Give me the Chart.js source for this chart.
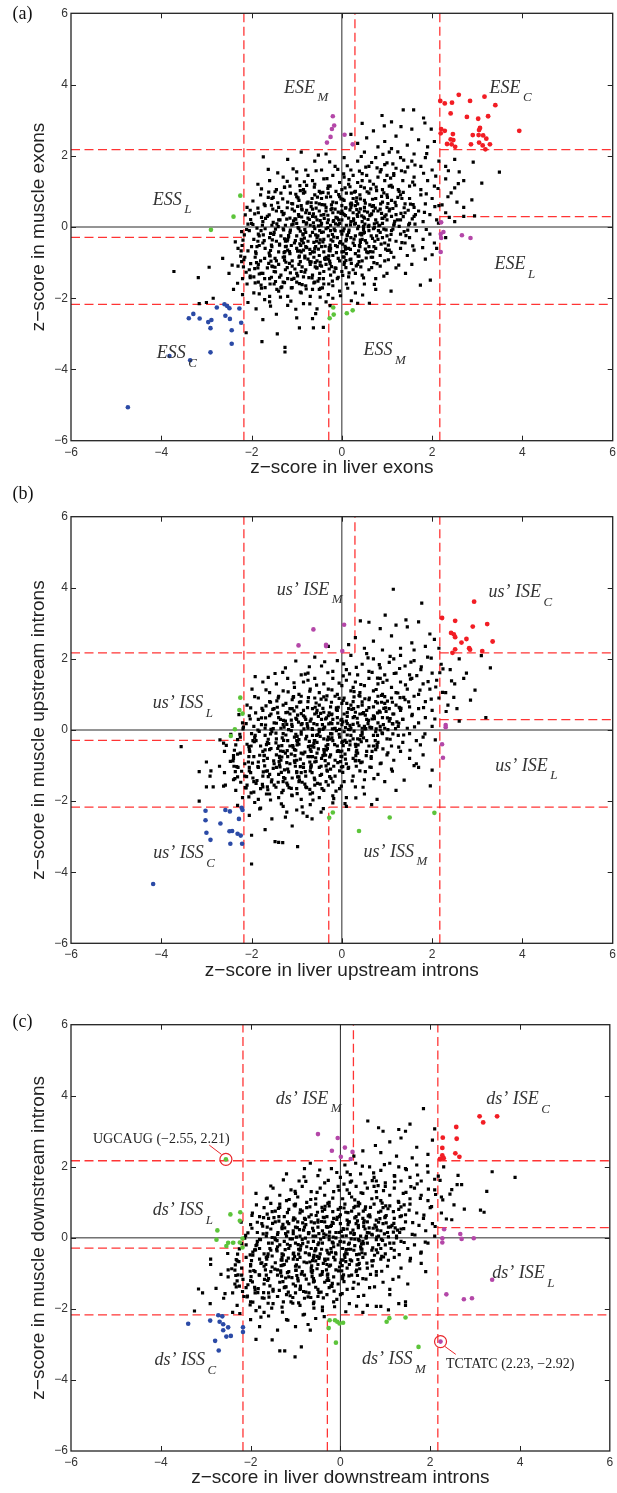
<!DOCTYPE html>
<html><head><meta charset="utf-8">
<script src="https://cdn.jsdelivr.net/npm/chart.js@4.4.0/dist/chart.umd.min.js"></script>
<style>
body{margin:0;background:#fff;width:617px;height:1493px;position:relative;overflow:hidden}
canvas{position:absolute;left:0}
</style></head><body>
<canvas id="ca" width="617" height="485" style="top:0px;width:617px;height:485px"></canvas>
<canvas id="cb" width="617" height="502" style="top:485px;width:617px;height:502px"></canvas>
<canvas id="cc" width="617" height="506" style="top:987px;width:617px;height:506px"></canvas>
<script>
const X_TICKS=[-6,-4,-2,0,2,4,6];
const Y_TICKS=[-6,-4,-2,0,2,4,6];
const CUT=2.17, CUT_IN=0.29;
const DASH_SEGS=[[-CUT,-6,-CUT,6],[CUT,-6,CUT,6],[-6,CUT,CUT_IN,CUT],[CUT,CUT,6,CUT],[-6,-CUT,-CUT,-CUT],[-CUT_IN,-CUT,6,-CUT],[CUT_IN,CUT,CUT_IN,6],[-CUT_IN,-6,-CUT_IN,-CUT],[CUT,CUT_IN,6,CUT_IN],[-6,-CUT_IN,-CUT,-CUT_IN]];
const ZERO_SEGS=[[0,-6,0,6],[-6,0,6,0]];

// ---------- panel (a) ----------
const cloudA=[1.36,3.29,1.59,3.29,0.89,3.13,0.45,2.91,1.1,2.95,1.81,3.06,1.84,2.92,0.94,2.84,1.31,2.82,1.55,2.75,0.7,2.7,1.98,2.75,0.2,2.6,1.2,2.55,0.55,2.5,1.7,2.45,2.05,2.4,0.95,2.4,0.35,2.35,1.45,2.3,0.8,2.25,1.9,2.25,1.1,2.2,
-1.74,1.97,-1.63,1.62,-1.2,1.9,-0.9,2.1,-0.6,1.85,-0.35,2.05,-0.15,1.7,0.05,1.95,0.2,1.6,0.35,1.85,0.5,2.1,0.6,1.7,0.75,1.95,0.85,1.55,1.0,1.8,1.05,2.1,1.2,1.65,1.3,1.95,1.4,1.55,1.55,1.85,1.6,2.05,1.75,1.7,1.85,1.95,2.0,1.6,2.15,1.85,2.3,1.7,2.5,1.9,2.91,1.82,2.6,1.55,-0.8,1.6,-1.0,1.55,0.45,1.5,0.95,1.75,-0.45,1.6,1.15,1.5,
-1.86,1.2,-1.6,1.3,-1.45,1.05,-1.3,1.4,-1.15,1.15,-1.0,1.35,-0.85,1.05,-0.75,1.45,-0.6,1.2,-0.5,1.0,-0.4,1.35,-0.3,1.15,-0.2,1.45,-0.05,1.25,0.0,1.05,0.05,1.4,0.15,1.2,0.25,1.45,0.3,1.0,0.45,1.3,0.5,1.1,0.55,1.45,0.7,1.2,0.8,1.4,0.9,1.05,0.95,1.3,1.05,1.15,1.15,1.45,1.25,1.05,1.35,1.3,1.5,1.15,1.6,1.4,1.75,1.05,1.9,1.3,2.05,1.15,2.3,1.35,2.5,1.1,2.7,1.3,3.1,1.23,3.49,1.54,-0.65,1.3,0.35,1.25,1.0,1.45,
-1.97,0.73,-2.1,0.55,-1.8,0.9,-1.7,0.6,-1.55,0.8,-1.4,0.55,-1.35,0.95,-1.2,0.7,-1.1,0.5,-1.0,0.85,-0.9,0.6,-0.85,0.95,-0.75,0.7,-0.65,0.5,-0.6,0.9,-0.5,0.65,-0.45,0.8,-0.35,0.55,-0.3,0.95,-0.2,0.7,-0.15,0.5,-0.05,0.85,0.0,0.6,0.05,0.75,0.1,0.95,0.2,0.55,0.25,0.8,0.35,0.65,0.4,0.9,0.5,0.55,0.5,0.75,0.6,0.95,0.7,0.6,0.75,0.8,0.85,0.5,0.9,0.7,1.0,0.9,1.0,0.55,1.1,0.75,1.2,0.6,1.3,0.9,1.4,0.65,1.5,0.8,1.6,0.55,1.75,0.9,1.85,0.65,2.0,0.8,2.15,0.6,2.35,0.85,2.55,0.7,2.88,0.76,2.7,0.55,-0.95,0.75,0.3,0.6,-0.25,0.85,
-2.14,0.34,-2.0,0.1,-1.85,0.4,-1.75,0.15,-1.65,0.3,-1.55,0.05,-1.45,0.45,-1.4,0.2,-1.3,0.35,-1.25,0.05,-1.15,0.25,-1.05,0.45,-1.0,0.1,-0.95,0.3,-0.85,0.15,-0.8,0.4,-0.7,0.05,-0.65,0.3,-0.55,0.2,-0.5,0.45,-0.45,0.1,-0.4,0.35,-0.3,0.2,-0.25,0.05,-0.2,0.4,-0.1,0.25,-0.05,0.1,0.0,0.45,0.0,0.2,0.05,0.35,0.1,0.05,0.15,0.25,0.25,0.4,0.3,0.1,0.35,0.3,0.45,0.15,0.5,0.45,0.5,0.25,0.6,0.05,0.65,0.35,0.75,0.2,0.8,0.45,0.9,0.1,0.95,0.3,1.0,0.2,1.05,0.45,1.15,0.05,1.2,0.35,1.3,0.2,1.4,0.4,1.5,0.1,1.6,0.3,1.7,0.45,1.8,0.15,1.95,0.35,2.1,0.2,2.3,0.4,2.5,0.15,2.94,0.31,2.7,0.3,-0.75,0.25,-0.35,0.45,0.2,0.15,0.7,0.45,1.1,0.3,
-2.05,-0.1,-1.95,-0.35,-1.85,-0.2,-1.75,-0.45,-1.7,-0.05,-1.6,-0.3,-1.5,-0.15,-1.45,-0.4,-1.35,-0.25,-1.3,-0.05,-1.2,-0.35,-1.15,-0.15,-1.05,-0.45,-1.0,-0.25,-0.95,-0.05,-0.9,-0.35,-0.8,-0.15,-0.75,-0.4,-0.7,-0.25,-0.6,-0.05,-0.55,-0.3,-0.5,-0.45,-0.45,-0.15,-0.4,-0.35,-0.35,-0.05,-0.3,-0.25,-0.2,-0.4,-0.15,-0.1,-0.1,-0.3,-0.05,-0.45,0.0,-0.2,0.05,-0.05,0.1,-0.35,0.15,-0.15,0.25,-0.45,0.3,-0.25,0.35,-0.05,0.45,-0.35,0.5,-0.15,0.55,-0.45,0.65,-0.25,0.7,-0.05,0.8,-0.35,0.85,-0.15,0.95,-0.45,1.0,-0.25,1.1,-0.1,1.2,-0.4,1.3,-0.2,1.4,-0.45,1.5,-0.3,1.65,-0.1,1.8,-0.35,1.95,-0.2,2.05,-0.45,2.3,-0.3,-0.65,-0.15,-0.25,-0.1,0.2,-0.3,0.6,-0.1,0.9,-0.3,-1.25,-0.4,-0.85,-0.45,0.4,-0.2,
-2.64,-0.88,-2.3,-0.6,-2.15,-0.85,-2.0,-0.55,-1.9,-0.75,-1.8,-0.95,-1.7,-0.6,-1.6,-0.8,-1.55,-0.55,-1.45,-0.95,-1.4,-0.7,-1.3,-0.85,-1.25,-0.55,-1.15,-0.75,-1.1,-0.95,-1.0,-0.6,-0.95,-0.85,-0.9,-0.7,-0.8,-0.55,-0.75,-0.9,-0.7,-0.75,-0.6,-0.6,-0.55,-0.95,-0.5,-0.8,-0.45,-0.55,-0.4,-0.7,-0.3,-0.9,-0.25,-0.6,-0.2,-0.8,-0.1,-0.55,-0.05,-0.95,0.0,-0.7,0.05,-0.85,0.15,-0.6,0.2,-0.9,0.3,-0.75,0.4,-0.55,0.45,-0.95,0.55,-0.7,0.65,-0.85,0.75,-0.6,0.85,-0.8,0.95,-0.95,1.05,-0.65,1.15,-0.85,1.3,-0.6,1.45,-0.8,1.6,-0.65,2.0,-0.78,1.85,-0.9,2.1,-0.6,-0.85,-0.65,-0.35,-0.85,0.1,-0.75,0.6,-0.55,-1.2,-0.65,-0.65,-0.7,
-3.72,-1.25,-3.18,-1.42,-2.94,-1.13,-2.5,-1.3,-2.3,-1.1,-2.2,-1.45,-2.05,-1.2,-1.95,-1.4,-1.85,-1.05,-1.75,-1.3,-1.65,-1.15,-1.6,-1.45,-1.5,-1.25,-1.4,-1.05,-1.35,-1.35,-1.25,-1.2,-1.2,-1.45,-1.1,-1.1,-1.0,-1.3,-0.95,-1.05,-0.85,-1.4,-0.8,-1.2,-0.7,-1.05,-0.65,-1.35,-0.55,-1.15,-0.5,-1.45,-0.4,-1.25,-0.35,-1.05,-0.25,-1.35,-0.15,-1.15,-0.1,-1.45,0.0,-1.25,0.05,-1.05,0.15,-1.4,0.25,-1.2,0.35,-1.05,0.45,-1.35,0.6,-1.2,0.75,-1.45,0.85,-1.1,1.0,-1.3,1.2,-1.15,1.41,-1.3,1.55,-1.05,-0.9,-1.25,-0.45,-1.1,-1.55,-1.1,0.3,-1.3,
-3.16,-2.15,-3.0,-2.12,-2.85,-2.0,-2.4,-1.75,-2.2,-1.9,-2.1,-1.6,-1.95,-1.85,-1.85,-1.55,-1.7,-1.7,-1.6,-1.95,-1.5,-1.6,-1.4,-1.8,-1.3,-1.55,-1.2,-1.95,-1.1,-1.7,-1.0,-1.55,-0.9,-1.85,-0.8,-1.65,-0.7,-1.95,-0.6,-1.55,-0.5,-1.75,-0.4,-1.6,-0.3,-1.9,-0.2,-1.65,-0.05,-1.8,0.1,-1.6,0.3,-1.85,0.5,-1.6,0.75,-1.75,1.09,-1.8,1.74,-1.63,1.96,-1.49,-1.35,-1.7,-0.65,-1.75,
-2.12,-2.97,-1.77,-3.22,-1.26,-3.38,-1.26,-3.51,-1.43,-3.0,-0.94,-2.83,-0.63,-2.83,-0.65,-2.57,-0.41,-2.82,-1.9,-2.3,-1.6,-2.1,-1.45,-2.45,-1.2,-2.2,-1.0,-2.55,-0.85,-2.15,-0.55,-2.3,-0.35,-2.1,0.35,-2.14,0.61,-2.14,-1.75,-2.6,-0.2,-2.0,
-1.12,-0.52,-0.92,-0.12,-0.72,0.38,-0.52,-0.62,-0.32,0.12,-0.12,-0.72,0.08,0.32,0.28,-0.52,0.48,0.02,0.68,-0.32,-1.02,0.22,-0.82,-0.82,-0.62,0.02,-0.42,-0.42,-0.22,0.52,-0.02,-0.12,0.18,-0.92,0.38,0.42,0.58,-0.72,0.78,0.12,-1.18,-0.28,-0.98,0.58,-0.78,-0.58,-0.58,0.28,-0.38,-0.88,-0.18,0.18,0.02,-0.48,0.22,0.62,0.42,-0.18,0.62,0.32,-1.08,0.08,-0.88,-0.38,-0.68,-0.98,-0.48,0.18,-0.28,-0.58,-0.08,0.42,0.12,-0.22,0.32,0.72,0.52,-0.62,0.72,-0.02,-1.28,-0.72,-0.58,-0.22,-0.18,-0.28,0.28,0.08,-0.78,0.12,-0.38,0.62,0.08,-0.58,0.48,0.28,-1.38,-0.48,-0.98,-0.68,-0.48,-1.08,0.02,0.78,0.62,0.62,-1.48,-0.88,-0.88,0.48,-0.28,-1.18,0.18,0.48,0.88,0.38,-1.58,-0.18,-0.68,0.68,-0.08,-0.88,0.38,-0.82,0.98,-0.08];
const cloudA2=[0.12,1.72,0.43,1.98,0.66,1.81,0.91,2.04,1.13,1.77,1.37,1.88,1.62,1.74,1.88,2.06,-0.27,1.83,-0.52,2.02,1.24,2.11,0.78,1.66,
-1.42,1.52,-1.08,1.63,-0.83,1.27,-0.57,1.58,-0.33,1.36,-0.09,1.62,0.16,1.33,0.39,1.57,0.62,1.29,0.87,1.61,1.08,1.37,1.32,1.58,1.57,1.26,1.81,1.51,2.08,1.43,2.36,1.58,-1.21,1.28,0.04,1.49,0.53,1.68,1.46,1.68,
-1.78,1.07,-1.52,0.83,-1.27,1.12,-1.02,0.92,-0.78,1.17,-0.54,0.84,-0.31,1.08,-0.07,0.91,0.18,1.13,0.41,0.79,0.64,1.07,0.88,0.86,1.12,1.12,1.36,0.97,1.61,1.18,1.87,0.93,2.13,1.08,2.42,0.96,-0.92,1.02,-0.42,0.97,0.28,0.98,0.77,1.02,1.24,0.83,-1.62,0.98,2.58,1.22,
-2.03,0.47,-1.78,0.27,-1.56,0.61,-1.33,0.43,-1.11,0.66,-0.89,0.28,-0.68,0.57,-0.46,0.33,-0.23,0.62,-0.02,0.38,0.21,0.67,0.44,0.31,0.67,0.58,0.89,0.24,1.13,0.52,1.36,0.29,1.58,0.63,1.83,0.41,2.06,0.57,2.38,0.27,-1.22,0.22,-0.57,0.68,0.08,0.53,0.57,0.42,1.02,0.66,1.47,0.47,-0.78,0.47,0.33,0.49,-0.13,0.27,2.22,0.62,
-2.22,-0.13,-1.97,0.07,-1.74,-0.22,-1.52,0.13,-1.29,-0.08,-1.07,0.17,-0.86,-0.19,-0.63,0.12,-0.41,-0.14,-0.19,0.16,0.03,-0.11,0.26,0.18,0.48,-0.17,0.72,0.09,0.93,-0.06,1.17,0.16,1.38,-0.13,1.62,0.08,1.87,-0.07,2.14,0.11,-0.97,-0.02,-0.52,0.03,-0.08,0.06,0.37,0.02,0.82,0.04,-1.41,0.01,1.27,0.02,-0.31,-0.02,0.59,0.01,-1.88,-0.03,
-2.36,-0.42,-2.08,-0.67,-1.83,-0.52,-1.61,-0.73,-1.38,-0.51,-1.16,-0.69,-0.93,-0.47,-0.71,-0.63,-0.48,-0.36,-0.26,-0.67,-0.03,-0.41,0.19,-0.63,0.41,-0.43,0.63,-0.69,0.87,-0.48,1.09,-0.71,1.33,-0.44,1.57,-0.53,1.79,-0.58,-1.27,-0.33,-0.83,-0.31,-0.37,-0.54,0.08,-0.62,0.52,-0.38,-0.62,-0.43,-1.03,-0.38,0.27,-0.34,-1.72,-0.38,0.97,-0.62,-0.14,-0.52,
-2.43,-1.07,-2.17,-0.92,-1.93,-1.17,-1.71,-0.88,-1.48,-1.13,-1.27,-0.93,-1.04,-1.18,-0.82,-0.87,-0.59,-1.12,-0.37,-0.91,-0.13,-1.16,0.09,-0.94,0.32,-1.09,0.54,-0.87,0.78,-1.03,1.03,-0.92,1.26,-1.07,-1.62,-1.02,-1.16,-1.02,-0.71,-0.97,-0.26,-1.03,0.21,-1.02,0.66,-1.14,-0.48,-0.99,-2.02,-1.03,
-2.31,-1.58,-2.03,-1.38,-1.79,-1.63,-1.56,-1.41,-1.33,-1.68,-1.11,-1.47,-0.88,-1.62,-0.66,-1.43,-0.43,-1.71,-0.21,-1.52,0.02,-1.36,0.24,-1.57,0.48,-1.43,0.72,-1.61,0.93,-1.38,-1.47,-1.53,-0.98,-1.37,-0.53,-1.52,0.13,-1.72,-1.83,-1.32,
-2.08,-2.12,-1.83,-1.88,-1.58,-2.22,-1.36,-1.97,-1.13,-2.08,-0.92,-1.83,-0.71,-2.16,-0.48,-1.97,-0.26,-2.21,-0.03,-1.93,0.21,-2.07,0.46,-1.91,-1.71,-2.04,-1.02,-2.31,-0.58,-2.43];
const cloudA3=[-1.27,1.11,-0.93,1.16,-0.61,1.12,-0.26,1.15,0.07,1.1,0.42,1.14,0.76,1.12,1.09,1.17,
-1.48,0.99,-1.14,0.95,-0.82,0.98,-0.47,0.96,-0.13,1.0,0.21,0.95,0.56,0.99,0.93,0.96,1.27,1.0,
-1.63,0.83,-1.31,0.79,-0.97,0.82,-0.66,0.8,-0.34,0.84,-0.02,0.79,0.33,0.82,0.68,0.78,1.01,0.83,1.33,0.8,
-1.72,0.64,-1.42,0.68,-1.09,0.65,-0.77,0.67,-0.44,0.63,-0.12,0.68,0.19,0.64,0.52,0.67,0.86,0.65,1.18,0.69,1.52,0.64,
-1.86,0.53,-1.53,0.5,-1.21,0.54,-0.89,0.51,-0.57,0.53,-0.24,0.49,0.09,0.54,0.41,0.51,0.74,0.53,1.06,0.5,1.38,0.54,
-1.93,0.37,-1.61,0.34,-1.28,0.38,-0.96,0.35,-0.63,0.37,-0.31,0.33,0.02,0.38,0.34,0.35,0.66,0.37,0.98,0.34,1.31,0.38,1.63,0.35,
-2.02,0.21,-1.69,0.24,-1.37,0.2,-1.04,0.23,-0.72,0.21,-0.39,0.24,-0.07,0.2,0.26,0.23,0.58,0.21,0.91,0.24,1.23,0.2,1.56,0.23,
-2.08,0.08,-1.76,0.05,-1.44,0.09,-1.11,0.06,-0.79,0.08,-0.46,0.05,-0.14,0.09,0.19,0.06,0.51,0.08,0.84,0.05,1.16,0.09,1.48,0.06,
-2.11,-0.07,-1.79,-0.1,-1.47,-0.06,-1.14,-0.09,-0.82,-0.07,-0.49,-0.1,-0.17,-0.06,0.16,-0.09,0.48,-0.07,0.81,-0.1,1.13,-0.06,1.46,-0.09,
-2.16,-0.22,-1.83,-0.25,-1.51,-0.21,-1.18,-0.24,-0.86,-0.22,-0.53,-0.25,-0.21,-0.21,0.12,-0.24,0.44,-0.22,0.77,-0.25,1.09,-0.21,1.42,-0.24,
-2.19,-0.37,-1.86,-0.4,-1.54,-0.36,-1.21,-0.39,-0.89,-0.37,-0.56,-0.4,-0.24,-0.36,0.09,-0.39,0.41,-0.37,0.73,-0.4,1.06,-0.36,
-2.21,-0.52,-1.88,-0.55,-1.56,-0.51,-1.23,-0.54,-0.91,-0.52,-0.58,-0.55,-0.26,-0.51,0.07,-0.54,0.39,-0.52,0.71,-0.55,1.03,-0.51,
-2.23,-0.67,-1.91,-0.7,-1.58,-0.66,-1.26,-0.69,-0.93,-0.67,-0.61,-0.7,-0.28,-0.66,0.04,-0.69,0.37,-0.67,0.69,-0.7,1.01,-0.66,
-2.24,-0.82,-1.92,-0.85,-1.59,-0.81,-1.27,-0.84,-0.94,-0.82,-0.62,-0.85,-0.29,-0.81,0.03,-0.84,0.36,-0.82,0.68,-0.85,
-2.22,-0.97,-1.89,-1.0,-1.57,-0.96,-1.24,-0.99,-0.92,-0.97,-0.59,-1.0,-0.27,-0.96,0.06,-0.99,0.38,-0.97,0.71,-1.0,
-2.18,-1.12,-1.86,-1.15,-1.53,-1.11,-1.21,-1.14,-0.88,-1.12,-0.56,-1.15,-0.23,-1.11,0.09,-1.14,0.42,-1.12,
-2.12,-1.27,-1.79,-1.3,-1.47,-1.26,-1.14,-1.29,-0.82,-1.27,-0.49,-1.3,-0.17,-1.26,0.16,-1.29,
-2.03,-1.42,-1.71,-1.45,-1.38,-1.41,-1.06,-1.44,-0.73,-1.42,-0.41,-1.45,-0.08,-1.41,
-1.92,-1.57,-1.59,-1.6,-1.27,-1.56,-0.94,-1.59,-0.62,-1.57,-0.29,-1.6,
-1.78,-1.72,-1.44,-1.75,-1.12,-1.71,-0.79,-1.74,-0.47,-1.72];
const redA=[2.59,3.71,2.18,3.54,2.28,3.47,2.44,3.49,2.84,3.54,3.16,3.66,3.4,3.42,2.41,3.19,2.77,3.09,3.02,3.04,3.24,3.11,3.06,2.78,3.04,2.72,2.2,2.75,2.28,2.7,2.19,2.63,2.46,2.61,2.9,2.58,3.03,2.58,3.13,2.57,2.41,2.46,2.47,2.44,3.2,2.48,2.33,2.33,2.43,2.32,2.51,2.25,2.86,2.32,3.04,2.37,3.12,2.29,3.28,2.32,3.18,2.18,3.93,2.7];
const magA=[-0.2,3.11,-0.17,2.85,-0.22,2.75,-0.25,2.53,-0.33,2.37,0.06,2.59,0.24,2.32,2.25,-0.14,2.19,-0.2,2.2,-0.31,2.66,-0.23,2.85,-0.31,2.19,-0.7,2.2,0.13];
const greenA=[-2.25,0.88,-2.4,0.29,-2.9,-0.08,-0.19,-2.26,-0.18,-2.46,-0.27,-2.56,0.11,-2.42,0.24,-2.34];
const blueA=[-2.6,-2.17,-2.77,-2.26,-2.54,-2.22,-2.49,-2.28,-2.27,-2.29,-2.58,-2.49,-2.48,-2.58,-2.23,-2.69,-3.29,-2.44,-3.39,-2.56,-3.15,-2.57,-2.89,-2.61,-2.96,-2.67,-2.91,-2.84,-2.44,-2.9,-2.44,-3.28,-2.91,-3.52,-3.82,-3.62,-3.36,-3.74,-4.74,-5.06];
const labelsA=[[-1.28,3.77,'ESE','M'],[3.27,3.77,'ESE','C'],[-4.19,0.62,'ESS','L'],[-4.1,-3.69,'ESS','C'],[3.38,-1.19,'ESE','L'],[0.48,-3.6,'ESS','M']];

// ---------- panel (b) ----------
const cloudB=[1.14,3.96,1.77,3.57,0.96,3.23,0.41,3.07,0.6,3.03,1.42,3.1,1.45,2.9,1.7,3.04,1.2,2.95,0.85,2.85,1.95,2.7,0.3,2.6,0.7,2.5,1.1,2.65,1.55,2.45,1.85,2.35,2.05,2.55,0.5,2.3,0.9,2.25,1.3,2.3,-0.3,2.35,0.15,2.4,1.6,2.25,2.15,2.3,
-1.92,1.5,-1.48,1.59,-1.02,1.94,-1.25,1.75,-0.75,1.6,-0.6,2.05,-0.45,1.8,-0.2,1.65,-0.1,1.95,0.1,1.7,0.2,2.1,0.35,1.55,0.45,1.85,0.6,1.65,0.7,2.0,0.85,1.75,0.95,1.55,1.05,1.9,1.2,1.6,1.3,2.1,1.4,1.8,1.5,1.55,1.6,1.95,1.75,1.7,1.9,2.05,2.0,1.6,2.2,1.85,2.4,1.7,2.6,2.0,2.76,1.6,3.29,1.75,3.09,2.09,-0.9,1.55,0.55,2.15,1.15,2.0,
-1.99,1.15,-1.75,1.35,-1.6,1.05,-1.45,1.3,-1.3,1.1,-1.2,1.45,-1.05,1.2,-0.95,1.0,-0.85,1.35,-0.7,1.15,-0.6,1.45,-0.5,1.05,-0.4,1.3,-0.3,1.15,-0.2,1.45,-0.1,1.0,0.0,1.25,0.1,1.4,0.2,1.1,0.3,1.35,0.4,1.05,0.5,1.25,0.6,1.45,0.7,1.1,0.8,1.3,0.9,1.0,1.0,1.4,1.1,1.2,1.2,1.05,1.3,1.35,1.45,1.15,1.55,1.45,1.7,1.0,1.8,1.3,1.95,1.15,2.1,1.4,2.3,1.05,2.5,1.3,2.95,1.12,2.7,1.45,-0.75,1.4,0.25,1.2,0.85,1.45,
-2.1,0.7,-1.85,0.9,-1.75,0.55,-1.6,0.8,-1.5,0.6,-1.4,0.95,-1.3,0.7,-1.2,0.5,-1.1,0.85,-1.0,0.65,-0.9,0.95,-0.85,0.55,-0.75,0.8,-0.65,0.6,-0.6,0.9,-0.5,0.7,-0.4,0.5,-0.35,0.85,-0.25,0.65,-0.15,0.95,-0.1,0.55,0.0,0.75,0.05,0.9,0.15,0.6,0.25,0.8,0.3,0.5,0.4,0.95,0.45,0.7,0.55,0.55,0.6,0.85,0.7,0.65,0.8,0.95,0.85,0.5,0.95,0.75,1.05,0.6,1.1,0.9,1.2,0.7,1.3,0.55,1.4,0.85,1.5,0.65,1.6,0.95,1.7,0.6,1.85,0.8,2.0,0.55,2.15,0.9,2.35,0.7,2.55,0.6,2.85,0.84,-1.15,0.6,-0.55,0.55,0.2,0.7,0.75,0.8,
-2.2,0.2,-2.05,0.4,-1.95,0.1,-1.85,0.3,-1.7,0.05,-1.6,0.4,-1.5,0.2,-1.4,0.35,-1.35,0.05,-1.25,0.25,-1.15,0.45,-1.1,0.1,-1.0,0.3,-0.9,0.15,-0.85,0.4,-0.75,0.05,-0.7,0.25,-0.6,0.45,-0.55,0.15,-0.45,0.3,-0.4,0.05,-0.3,0.4,-0.25,0.2,-0.15,0.05,-0.1,0.35,0.0,0.15,0.05,0.45,0.1,0.25,0.2,0.05,0.25,0.35,0.35,0.2,0.4,0.45,0.5,0.1,0.55,0.3,0.65,0.05,0.7,0.4,0.8,0.2,0.9,0.35,0.95,0.05,1.05,0.25,1.15,0.45,1.25,0.1,1.35,0.3,1.45,0.05,1.55,0.4,1.7,0.2,1.85,0.35,2.0,0.1,3.19,0.35,2.6,0.25,-0.8,0.3,-0.2,0.3,0.45,0.05,0.85,0.1,-1.3,0.15,-0.5,0.02,0.15,0.02,-0.05,0.02,-0.65,0.02,
-3.56,-0.47,-2.7,-0.28,-2.62,-0.37,-2.25,-0.2,-2.1,-0.4,-2.0,-0.1,-1.9,-0.3,-1.8,-0.45,-1.7,-0.15,-1.65,-0.35,-1.55,-0.05,-1.45,-0.25,-1.4,-0.45,-1.3,-0.1,-1.2,-0.3,-1.15,-0.45,-1.05,-0.2,-0.95,-0.4,-0.9,-0.05,-0.8,-0.25,-0.7,-0.45,-0.65,-0.15,-0.55,-0.35,-0.5,-0.05,-0.4,-0.25,-0.35,-0.45,-0.25,-0.1,-0.2,-0.3,-0.1,-0.45,-0.05,-0.2,0.05,-0.05,0.1,-0.35,0.2,-0.15,0.3,-0.4,0.35,-0.25,0.45,-0.05,0.55,-0.3,0.6,-0.45,0.7,-0.15,0.8,-0.35,0.9,-0.1,1.0,-0.25,1.1,-0.45,1.25,-0.15,1.35,-0.35,1.5,-0.1,1.65,-0.3,1.8,-0.2,2.07,-0.28,-1.0,-0.3,-0.3,-0.2,0.25,-0.25,0.75,-0.05,-0.6,-0.3,0.0,-0.35,
-3.0,-0.9,-2.6,-0.6,-2.4,-0.8,-2.25,-0.65,-2.15,-0.95,-2.05,-0.55,-1.95,-0.75,-1.85,-0.9,-1.75,-0.6,-1.65,-0.8,-1.6,-0.55,-1.5,-0.95,-1.45,-0.7,-1.35,-0.85,-1.3,-0.6,-1.2,-0.75,-1.15,-0.95,-1.05,-0.55,-1.0,-0.85,-0.9,-0.65,-0.85,-0.95,-0.75,-0.75,-0.7,-0.55,-0.6,-0.9,-0.55,-0.65,-0.45,-0.8,-0.4,-0.55,-0.3,-0.95,-0.25,-0.7,-0.15,-0.85,-0.1,-0.6,0.0,-0.75,0.1,-0.95,0.15,-0.55,0.25,-0.8,0.35,-0.65,0.45,-0.9,0.55,-0.6,0.65,-0.8,0.75,-0.55,0.85,-0.95,1.0,-0.7,1.15,-0.85,1.3,-0.6,1.5,-0.8,1.65,-0.95,1.8,-0.7,-1.25,-0.65,-0.65,-0.75,0.3,-0.85,
-3.16,-1.17,-2.9,-1.15,-2.92,-1.3,-2.6,-1.2,-2.4,-1.4,-2.3,-1.05,-2.15,-1.3,-2.05,-1.15,-1.95,-1.45,-1.85,-1.05,-1.75,-1.3,-1.65,-1.15,-1.55,-1.4,-1.45,-1.05,-1.4,-1.25,-1.3,-1.45,-1.2,-1.1,-1.1,-1.35,-1.0,-1.2,-0.95,-1.45,-0.85,-1.05,-0.8,-1.3,-0.7,-1.15,-0.6,-1.4,-0.5,-1.05,-0.45,-1.25,-0.35,-1.45,-0.25,-1.1,-0.15,-1.3,-0.05,-1.15,0.05,-1.45,0.15,-1.05,0.25,-1.3,0.4,-1.15,0.5,-1.4,0.65,-1.05,0.8,-1.25,0.95,-1.45,1.1,-1.1,1.38,-1.41,1.6,-1.0,1.7,-1.05,2.0,-1.13,-1.6,-1.25,-0.9,-1.2,
-3.0,-1.6,-2.85,-1.6,-2.58,-1.55,-3.16,-2.0,-2.35,-1.7,-2.2,-1.9,-2.1,-1.55,-1.95,-1.75,-1.85,-1.95,-1.75,-1.6,-1.6,-1.8,-1.5,-1.55,-1.4,-1.9,-1.3,-1.7,-1.2,-1.55,-1.1,-1.85,-1.0,-1.65,-0.9,-1.95,-0.8,-1.6,-0.7,-1.8,-0.6,-1.55,-0.5,-1.9,-0.4,-1.7,-0.3,-1.55,-0.2,-1.85,-0.05,-1.65,0.1,-1.9,0.3,-1.6,0.5,-1.8,0.78,-1.95,1.96,-1.57,1.2,-1.7,-1.65,-1.6,
-2.0,-3.77,-1.48,-3.14,-1.4,-3.16,-1.31,-3.17,-0.98,-3.28,-2.0,-2.96,-2.05,-2.4,-0.86,-2.33,-0.66,-2.5,-0.46,-2.31,0.66,-2.1,-1.8,-2.2,-1.55,-2.5,-1.3,-2.15,-1.1,-2.7,-1.0,-2.25,-0.7,-2.1,-0.2,-2.05,-1.7,-2.8,-1.25,-2.45,0.1,-2.15,
-1.42,-0.52,-1.22,-0.92,-1.02,-0.12,-0.82,-0.62,-0.62,0.18,-0.42,-0.72,-0.22,-0.22,-0.02,0.28,0.18,-0.42,0.38,0.12,-1.32,-0.22,-1.12,0.28,-0.92,-0.82,-0.72,-0.32,-0.52,0.38,-0.32,-0.52,-0.12,-0.02,0.08,-0.82,0.28,0.38,0.48,-0.22,-1.52,-1.08,-1.28,0.08,-1.08,-0.48,-0.88,0.18,-0.68,-1.02,-0.48,-0.18,-0.28,0.48,-0.08,-0.58,0.12,0.18,0.32,-0.62,0.52,0.42,-1.38,-0.78,-1.18,-1.18,-0.98,0.42,-0.78,-0.18,-0.58,-0.78,-0.38,0.08,-0.18,-1.02,0.02,-0.32,0.22,0.58,0.42,-0.92,0.62,0.08,-1.62,-0.38,-0.98,-1.32,-0.48,-1.28,0.72,0.32,-0.12,0.62,-1.72,-0.72,-0.62,-0.48,-0.22,0.18,0.78,-0.48,-1.12,-0.68,0.98,0.52,1.12,0.18,0.88,0.78,1.28,0.62,-0.32,-0.28];
const cloudB2=[0.32,1.76,0.58,2.03,0.83,1.84,1.07,2.07,1.28,1.73,1.53,1.91,1.76,1.78,1.98,2.02,-0.38,1.92,0.04,1.86,2.24,1.72,-0.72,1.78,
-1.63,1.48,-1.31,1.62,-1.06,1.33,-0.81,1.57,-0.56,1.26,-0.31,1.61,-0.06,1.32,0.17,1.58,0.42,1.28,0.67,1.62,0.91,1.34,1.16,1.59,1.41,1.27,1.66,1.53,1.91,1.36,2.17,1.61,2.43,1.38,0.03,1.52,0.79,1.46,1.52,1.43,
-1.93,0.94,-1.68,1.13,-1.44,0.82,-1.19,1.07,-0.94,0.78,-0.71,1.09,-0.46,0.87,-0.22,1.13,0.03,0.83,0.27,1.08,0.51,0.88,0.76,1.14,1.01,0.81,1.24,1.04,1.48,0.79,1.73,1.12,1.98,0.87,2.23,1.06,2.48,0.92,-1.08,0.92,-0.33,0.96,0.38,0.97,0.88,0.97,1.37,0.92,2.08,1.21,
-2.28,0.43,-2.02,0.62,-1.78,0.34,-1.53,0.58,-1.29,0.27,-1.06,0.54,-0.82,0.36,-0.59,0.64,-0.36,0.31,-0.12,0.57,0.12,0.38,0.36,0.66,0.59,0.27,0.83,0.53,1.07,0.32,1.31,0.61,1.56,0.44,1.81,0.63,2.06,0.31,2.31,0.52,-0.96,0.22,-0.47,0.47,0.02,0.23,0.48,0.49,0.97,0.62,-1.42,0.48,1.22,0.23,-0.23,0.43,0.72,0.37,-1.68,0.68,
-2.46,-0.12,-2.18,0.08,-1.93,-0.21,-1.69,0.14,-1.46,-0.09,-1.22,0.16,-0.99,-0.18,-0.76,0.11,-0.53,-0.13,-0.29,0.17,-0.06,-0.12,0.18,0.13,0.42,-0.16,0.66,0.07,0.89,-0.08,1.13,0.17,1.37,-0.14,1.61,0.09,1.84,-0.11,-1.12,-0.02,-0.66,0.04,-0.21,0.03,0.27,-0.03,0.76,0.03,-1.57,0.02,1.02,0.01,-0.42,0.02,0.53,0.04,-1.83,-0.04,0.08,0.07,
-2.56,-0.43,-2.31,-0.68,-2.06,-0.47,-1.82,-0.71,-1.57,-0.52,-1.33,-0.76,-1.09,-0.44,-0.86,-0.67,-0.62,-0.38,-0.39,-0.63,-0.16,-0.41,0.07,-0.68,0.31,-0.46,0.54,-0.72,0.78,-0.41,1.02,-0.64,1.26,-0.48,1.51,-0.57,1.74,-0.42,-1.46,-0.36,-0.98,-0.33,-0.52,-0.53,-0.03,-0.61,0.43,-0.33,-0.74,-0.47,-1.21,-0.58,0.18,-0.31,-1.94,-0.33,0.91,-0.53,-0.27,-0.76,
-2.71,-1.02,-2.47,-0.88,-2.22,-1.16,-1.98,-0.93,-1.74,-1.18,-1.51,-0.87,-1.27,-1.12,-1.04,-0.91,-0.81,-1.17,-0.57,-0.88,-0.33,-1.13,-0.09,-0.92,0.14,-1.08,0.38,-0.86,0.62,-1.04,0.87,-0.93,1.12,-1.16,-1.86,-1.03,-1.38,-0.98,-0.92,-1.03,-0.46,-1.02,0.02,-1.03,0.52,-1.17,-0.68,-0.98,-2.33,-1.03,
-2.62,-1.58,-2.37,-1.37,-2.12,-1.63,-1.88,-1.42,-1.64,-1.68,-1.41,-1.47,-1.17,-1.62,-0.94,-1.41,-0.71,-1.67,-0.48,-1.52,-0.24,-1.36,-0.01,-1.58,0.23,-1.43,0.47,-1.61,0.71,-1.37,-1.76,-1.53,-1.26,-1.37,-0.82,-1.52,-0.13,-1.72,-2.11,-1.31,
-2.31,-2.12,-2.06,-1.88,-1.82,-2.22,-1.58,-1.97,-1.34,-2.08,-1.11,-1.83,-0.88,-2.16,-0.64,-1.97,-0.41,-2.21,-0.18,-1.93,0.07,-2.07,0.31,-1.91,-1.93,-2.04,-1.22,-2.31,-0.77,-2.43];
const cloudB3=[-1.41,0.9,-1.07,0.94,-0.74,0.91,-0.4,0.93,-0.06,0.89,0.27,0.93,0.61,0.9,0.95,0.94,1.29,0.91,
-1.58,0.78,-1.24,0.75,-0.91,0.79,-0.57,0.76,-0.23,0.78,0.11,0.75,0.45,0.79,0.79,0.76,1.12,0.78,
-1.77,0.61,-1.43,0.64,-1.1,0.6,-0.76,0.63,-0.42,0.61,-0.08,0.64,0.26,0.6,0.6,0.63,0.93,0.61,1.27,0.64,
-1.91,0.48,-1.57,0.45,-1.24,0.49,-0.9,0.46,-0.56,0.48,-0.22,0.45,0.12,0.49,0.46,0.46,0.79,0.48,1.13,0.45,
-2.03,0.31,-1.69,0.34,-1.36,0.3,-1.02,0.33,-0.68,0.31,-0.34,0.34,0.0,0.3,0.34,0.33,0.67,0.31,1.01,0.34,1.35,0.3,
-2.12,0.18,-1.78,0.15,-1.45,0.19,-1.11,0.16,-0.77,0.18,-0.43,0.15,-0.09,0.19,0.25,0.16,0.58,0.18,0.92,0.15,1.26,0.19,
-2.19,0.03,-1.86,0.0,-1.52,0.04,-1.18,0.01,-0.84,0.03,-0.5,0.0,-0.16,0.04,0.18,0.01,0.51,0.03,0.85,0.0,1.19,0.04,
-2.26,-0.12,-1.92,-0.15,-1.58,-0.11,-1.24,-0.14,-0.9,-0.12,-0.56,-0.15,-0.22,-0.11,0.12,-0.14,0.45,-0.12,0.79,-0.15,1.13,-0.11,
-2.31,-0.27,-1.97,-0.3,-1.63,-0.26,-1.29,-0.29,-0.95,-0.27,-0.61,-0.3,-0.27,-0.26,0.07,-0.29,0.4,-0.27,0.74,-0.3,1.07,-0.26,
-2.35,-0.42,-2.01,-0.45,-1.67,-0.41,-1.33,-0.44,-0.99,-0.42,-0.65,-0.45,-0.31,-0.41,0.03,-0.44,0.36,-0.42,0.7,-0.45,
-2.38,-0.57,-2.04,-0.6,-1.7,-0.56,-1.36,-0.59,-1.02,-0.57,-0.68,-0.6,-0.34,-0.56,0.0,-0.59,0.33,-0.57,0.67,-0.6,
-2.4,-0.72,-2.06,-0.75,-1.72,-0.71,-1.38,-0.74,-1.04,-0.72,-0.7,-0.75,-0.36,-0.71,-0.02,-0.74,0.31,-0.72,0.65,-0.75,
-2.41,-0.87,-2.07,-0.9,-1.73,-0.86,-1.39,-0.89,-1.05,-0.87,-0.71,-0.9,-0.37,-0.86,-0.03,-0.89,0.3,-0.87,
-2.39,-1.02,-2.05,-1.05,-1.71,-1.01,-1.37,-1.04,-1.03,-1.02,-0.69,-1.05,-0.35,-1.01,-0.01,-1.04,0.32,-1.02,
-2.36,-1.17,-2.02,-1.2,-1.68,-1.16,-1.34,-1.19,-1.0,-1.17,-0.66,-1.2,-0.32,-1.16,0.02,-1.19,
-2.31,-1.32,-1.97,-1.35,-1.63,-1.31,-1.29,-1.34,-0.95,-1.32,-0.61,-1.35,-0.27,-1.31,
-2.24,-1.47,-1.9,-1.5,-1.56,-1.46,-1.22,-1.49,-0.88,-1.47,-0.54,-1.5,-0.2,-1.46,
-2.14,-1.62,-1.8,-1.65,-1.46,-1.61,-1.12,-1.64,-0.78,-1.62,-0.44,-1.65,
-2.01,-1.77,-1.67,-1.8,-1.33,-1.76,-0.99,-1.79,-0.65,-1.77];
const redB=[2.22,3.15,2.51,3.07,2.93,3.61,2.9,2.91,3.22,2.98,2.42,2.73,2.48,2.69,2.51,2.61,2.76,2.56,2.65,2.46,3.34,2.49,2.82,2.3,2.84,2.26,2.51,2.27,2.45,2.17,3.11,2.22];
const magB=[-0.63,2.83,-0.96,2.38,-0.35,2.36,-0.35,2.4,0.05,2.96,0.01,2.22,2.3,0.14,2.3,0.08,2.22,-0.4,2.24,-0.78];
const greenB=[-2.25,0.91,-2.27,0.56,-2.2,0.46,-2.37,0.02,-2.46,-0.17,-0.28,-2.47,-0.2,-2.32,0.38,-2.84,1.06,-2.46,2.05,-2.33];
const blueB=[-3.02,-2.27,-3.02,-2.54,-3.0,-2.89,-2.91,-3.09,-2.69,-2.63,-2.58,-2.25,-2.48,-2.29,-2.22,-2.19,-2.2,-2.25,-2.28,-2.5,-2.49,-2.85,-2.43,-2.84,-2.31,-2.92,-2.24,-2.97,-2.47,-3.2,-2.21,-3.2,-4.18,-4.33];
const labelsB=[[-1.44,3.8,'us\u2019 ISE','M'],[3.25,3.73,'us\u2019 ISE','C'],[-4.19,0.61,'us\u2019 ISS','L'],[-4.18,-3.61,'us\u2019 ISS','C'],[3.4,-1.14,'us\u2019 ISE','L'],[0.48,-3.56,'us\u2019 ISS','M']];

// ---------- panel (c) ----------
const cloudC=[1.85,3.64,0.61,3.29,0.85,3.1,0.95,3.0,1.3,3.05,1.45,3.0,1.55,3.2,2.1,3.07,1.35,2.81,0.78,2.6,1.1,2.7,1.7,2.55,0.5,2.45,1.95,2.35,0.3,2.3,1.25,2.3,0.9,2.4,1.6,2.25,2.05,2.75,
-0.67,2.1,-0.92,1.6,-1.2,1.8,-0.5,1.75,-0.35,1.55,-0.2,1.95,0.0,1.7,0.1,2.05,0.25,1.6,0.34,2.1,0.45,1.8,0.55,1.55,0.65,2.0,0.75,1.7,0.9,1.9,1.0,1.55,1.1,2.1,1.2,1.75,1.35,1.6,1.45,1.95,1.55,1.7,1.7,2.05,1.8,1.6,1.95,1.85,2.1,1.65,2.62,1.76,2.6,1.5,2.7,1.5,3.38,1.86,3.89,1.7,-0.8,1.95,0.15,1.85,0.8,1.6,1.3,2.0,2.3,2.0,
-1.88,1.25,-1.65,1.1,-1.5,1.4,-1.35,1.2,-1.2,1.05,-1.1,1.35,-0.95,1.15,-0.85,1.45,-0.75,1.0,-0.65,1.3,-0.55,1.1,-0.45,1.4,-0.35,1.2,-0.25,1.0,-0.15,1.3,-0.05,1.45,0.05,1.1,0.15,1.35,0.25,1.15,0.35,1.45,0.4,1.0,0.5,1.25,0.6,1.4,0.7,1.1,0.8,1.3,0.9,1.05,1.0,1.45,1.1,1.2,1.2,1.4,1.3,1.0,1.4,1.25,1.55,1.1,1.65,1.4,1.8,1.2,1.95,1.05,2.1,1.35,2.44,1.23,3.26,1.31,2.25,1.15,-1.0,1.25,0.2,1.25,0.75,1.45,
-1.96,0.7,-1.55,0.97,-1.8,0.6,-1.7,0.85,-1.6,0.55,-1.45,0.75,-1.35,0.95,-1.25,0.6,-1.15,0.8,-1.05,0.5,-1.0,0.95,-0.9,0.7,-0.8,0.55,-0.75,0.85,-0.65,0.65,-0.55,0.95,-0.5,0.5,-0.4,0.75,-0.3,0.6,-0.25,0.9,-0.15,0.55,-0.05,0.8,0.0,0.65,0.1,0.95,0.15,0.5,0.25,0.75,0.35,0.6,0.4,0.9,0.5,0.55,0.55,0.8,0.65,0.65,0.75,0.95,0.8,0.5,0.9,0.75,1.0,0.6,1.1,0.9,1.2,0.55,1.3,0.8,1.45,0.65,1.55,0.95,1.7,0.7,1.85,0.55,2.0,0.85,3.12,0.78,3.2,0.72,2.76,0.81,2.48,0.51,2.25,0.7,-0.35,0.8,0.3,0.85,0.95,0.85,
-2.0,0.37,-1.85,0.15,-1.75,0.4,-1.65,0.05,-1.55,0.25,-1.45,0.45,-1.4,0.1,-1.3,0.3,-1.2,0.05,-1.15,0.4,-1.05,0.2,-0.95,0.45,-0.9,0.05,-0.8,0.3,-0.7,0.15,-0.65,0.45,-0.55,0.05,-0.5,0.3,-0.4,0.2,-0.35,0.45,-0.25,0.05,-0.2,0.35,-0.1,0.15,0.0,0.4,0.05,0.05,0.15,0.25,0.2,0.45,0.3,0.1,0.4,0.35,0.45,0.05,0.55,0.25,0.6,0.45,0.7,0.1,0.8,0.3,0.85,0.05,0.95,0.4,1.05,0.15,1.15,0.35,1.25,0.05,1.35,0.25,1.45,0.45,1.6,0.1,1.75,0.35,1.9,0.2,2.05,0.4,2.1,0.05,-1.0,0.3,-0.3,0.3,0.35,0.4,0.9,0.2,-0.6,0.2,0.6,0.15,
-2.1,-0.2,-1.95,-0.4,-1.85,-0.1,-1.8,-0.3,-1.7,-0.45,-1.6,-0.15,-1.55,-0.35,-1.45,-0.05,-1.4,-0.25,-1.3,-0.45,-1.25,-0.1,-1.15,-0.3,-1.05,-0.45,-1.0,-0.15,-0.9,-0.35,-0.85,-0.05,-0.75,-0.25,-0.7,-0.45,-0.6,-0.1,-0.55,-0.3,-0.45,-0.45,-0.4,-0.15,-0.3,-0.35,-0.25,-0.05,-0.15,-0.25,-0.1,-0.45,0.0,-0.1,0.05,-0.3,0.15,-0.45,0.2,-0.15,0.3,-0.35,0.4,-0.05,0.45,-0.25,0.55,-0.45,0.6,-0.15,0.7,-0.35,0.8,-0.05,0.9,-0.3,1.0,-0.45,1.1,-0.15,1.2,-0.35,1.35,-0.1,1.5,-0.3,1.65,-0.2,1.8,-0.4,1.95,-0.15,-1.35,-0.2,-0.65,-0.3,-0.05,-0.2,0.5,-0.1,1.0,-0.2,-0.2,-0.4,
-2.89,-0.6,-2.89,-0.75,-2.5,-0.9,-2.3,-0.65,-2.2,-0.85,-2.1,-0.55,-2.0,-0.75,-1.9,-0.95,-1.8,-0.6,-1.7,-0.8,-1.65,-0.55,-1.55,-0.95,-1.45,-0.7,-1.4,-0.9,-1.3,-0.55,-1.25,-0.75,-1.15,-0.95,-1.05,-0.6,-1.0,-0.8,-0.9,-0.55,-0.85,-0.95,-0.75,-0.7,-0.65,-0.85,-0.6,-0.55,-0.5,-0.75,-0.4,-0.95,-0.35,-0.6,-0.25,-0.8,-0.15,-0.55,-0.1,-0.9,0.0,-0.7,0.1,-0.55,0.15,-0.85,0.25,-0.65,0.35,-0.95,0.4,-0.75,0.5,-0.55,0.6,-0.85,0.7,-0.65,0.8,-0.95,0.9,-0.6,1.05,-0.8,1.2,-0.55,1.35,-0.85,1.55,-0.65,1.8,-0.72,1.9,-0.95,-1.2,-0.65,-0.55,-0.65,0.2,-0.75,-1.75,-0.7,
-3.16,-1.44,-2.77,-1.42,-2.5,-1.1,-2.35,-1.3,-2.2,-1.05,-2.1,-1.4,-2.0,-1.2,-1.9,-1.45,-1.8,-1.05,-1.7,-1.3,-1.6,-1.15,-1.5,-1.45,-1.4,-1.05,-1.35,-1.25,-1.25,-1.4,-1.15,-1.1,-1.05,-1.3,-0.95,-1.15,-0.9,-1.45,-0.8,-1.05,-0.7,-1.3,-0.6,-1.15,-0.5,-1.45,-0.45,-1.05,-0.35,-1.25,-0.25,-1.4,-0.15,-1.1,-0.05,-1.3,0.05,-1.15,0.15,-1.45,0.25,-1.05,0.4,-1.3,0.5,-1.15,0.65,-1.4,0.8,-1.05,0.95,-1.25,1.1,-1.45,1.3,-1.1,1.5,-1.3,-1.0,-1.35,-0.3,-1.2,0.3,-1.25,
-3.07,-1.55,-2.9,-1.85,-2.6,-1.7,-2.4,-1.55,-2.3,-1.9,-2.15,-1.65,-2.0,-1.8,-1.9,-1.55,-1.8,-1.95,-1.7,-1.7,-1.6,-1.55,-1.5,-1.85,-1.4,-1.65,-1.3,-1.95,-1.2,-1.6,-1.1,-1.8,-1.0,-1.55,-0.9,-1.9,-0.8,-1.7,-0.7,-1.55,-0.6,-1.85,-0.5,-1.65,-0.4,-1.95,-0.3,-1.6,-0.15,-1.8,0.0,-1.6,0.2,-1.85,0.4,-1.65,0.6,-1.9,0.8,-1.93,0.9,-1.93,1.45,-1.8,1.45,-1.9,1.3,-1.85,1.1,-1.6,
-3.25,-2.06,-1.01,-3.35,-1.35,-3.18,-1.24,-3.18,-0.87,-3.07,-1.88,-2.86,-1.52,-2.87,-0.67,-2.6,-0.55,-2.27,-2.4,-2.1,-2.0,-2.3,-1.8,-2.5,-1.6,-2.2,-1.4,-2.6,-1.2,-2.3,-1.0,-2.5,-0.8,-2.15,-0.4,-2.05,1.07,-2.03,0.5,-2.1,-1.7,-2.1,
-1.32,-0.62,-1.12,-0.22,-0.92,-0.82,-0.72,-0.12,-0.52,-0.52,-0.32,0.08,-0.12,-0.62,0.08,-0.12,0.28,0.22,0.48,-0.42,-1.22,0.12,-1.02,-0.52,-0.82,0.22,-0.62,-0.92,-0.42,-0.32,-0.22,0.32,-0.02,-0.82,0.18,-0.32,0.38,0.48,0.58,0.02,-1.42,-0.32,-1.18,-0.98,-0.98,0.02,-0.78,-0.42,-0.58,0.42,-0.38,-0.72,-0.18,-0.12,0.02,0.18,0.22,-0.62,0.42,-0.08,-1.52,-0.82,-0.88,-0.22,-0.68,-0.68,-0.48,0.12,-0.28,-1.02,-0.08,0.52,0.12,-0.42,0.32,-0.22,0.52,0.32,0.72,-0.28,-1.08,-1.12,-0.58,-1.22,-0.18,-1.28,0.62,0.62,0.82,0.22,-1.62,-0.52,-0.38,0.58,0.12,0.72,0.92,-0.52,1.02,0.42,-0.78,0.52,-0.28,-0.42,0.42,-0.72,1.22,0.28,-1.28,0.38,-0.48,-0.58];
const cloudC2=[0.22,1.78,0.49,2.02,0.74,1.83,0.98,2.06,1.21,1.74,1.47,1.92,1.72,1.77,1.94,2.03,-0.46,1.91,-0.08,1.84,2.18,1.74,-0.81,1.72,
-1.55,1.46,-1.27,1.63,-1.01,1.31,-0.77,1.59,-0.52,1.28,-0.27,1.62,-0.03,1.34,0.22,1.57,0.46,1.27,0.71,1.61,0.96,1.33,1.21,1.58,1.46,1.28,1.71,1.52,1.96,1.37,2.22,1.62,2.48,1.36,0.08,1.51,0.84,1.47,1.57,1.44,
-1.87,0.93,-1.63,1.12,-1.38,0.83,-1.14,1.08,-0.89,0.79,-0.66,1.08,-0.41,0.86,-0.17,1.12,0.08,0.84,0.32,1.07,0.56,0.87,0.81,1.13,1.06,0.82,1.29,1.03,1.53,0.78,1.78,1.11,2.03,0.88,2.28,1.07,2.53,0.93,-1.03,0.93,-0.28,0.97,0.43,0.96,0.93,0.98,1.42,0.93,2.12,1.22,
-2.21,0.44,-1.97,0.63,-1.73,0.33,-1.48,0.57,-1.24,0.28,-1.01,0.53,-0.77,0.37,-0.54,0.63,-0.31,0.32,-0.07,0.58,0.17,0.37,0.41,0.67,0.64,0.28,0.88,0.54,1.12,0.31,1.36,0.62,1.61,0.43,1.86,0.64,2.11,0.32,2.36,0.53,-0.91,0.23,-0.42,0.46,0.07,0.24,0.53,0.48,1.02,0.63,-1.37,0.47,1.27,0.22,-0.18,0.44,0.77,0.36,-1.63,0.67,
-2.38,-0.13,-2.11,0.07,-1.88,-0.22,-1.64,0.13,-1.41,-0.08,-1.17,0.17,-0.94,-0.19,-0.71,0.12,-0.48,-0.14,-0.24,0.16,-0.01,-0.11,0.23,0.14,0.47,-0.17,0.71,0.08,0.94,-0.07,1.18,0.16,1.42,-0.13,1.66,0.08,1.89,-0.12,-1.07,-0.03,-0.61,0.05,-0.16,0.02,0.32,-0.04,0.81,0.02,-1.52,0.01,1.07,0.03,-0.37,0.01,0.58,0.05,-1.78,-0.05,0.13,0.06,
-2.51,-0.44,-2.26,-0.67,-2.01,-0.48,-1.77,-0.72,-1.52,-0.51,-1.28,-0.77,-1.04,-0.43,-0.81,-0.68,-0.57,-0.37,-0.34,-0.64,-0.11,-0.42,0.12,-0.67,0.36,-0.47,0.59,-0.71,0.83,-0.42,1.07,-0.63,1.31,-0.47,1.56,-0.58,1.79,-0.43,-1.41,-0.37,-0.93,-0.32,-0.47,-0.54,0.02,-0.62,0.48,-0.32,-0.69,-0.48,-1.16,-0.57,0.23,-0.32,-1.89,-0.34,0.96,-0.54,-0.22,-0.77,
-2.66,-1.03,-2.42,-0.87,-2.17,-1.17,-1.93,-0.92,-1.69,-1.17,-1.46,-0.88,-1.22,-1.13,-0.99,-0.92,-0.76,-1.16,-0.52,-0.87,-0.28,-1.14,-0.04,-0.93,0.19,-1.07,0.43,-0.87,0.67,-1.03,0.92,-0.94,1.17,-1.17,-1.81,-1.04,-1.33,-0.99,-0.87,-1.02,-0.41,-1.03,0.07,-1.04,0.57,-1.16,-0.63,-0.99,-2.28,-1.04,
-2.57,-1.57,-2.32,-1.38,-2.07,-1.64,-1.83,-1.43,-1.59,-1.67,-1.36,-1.48,-1.12,-1.63,-0.89,-1.42,-0.66,-1.68,-0.43,-1.53,-0.19,-1.37,0.04,-1.57,0.28,-1.42,0.52,-1.62,0.76,-1.38,-1.71,-1.54,-1.21,-1.38,-0.77,-1.53,-0.08,-1.73,-2.06,-1.32,
-2.24,-2.13,-2.01,-1.89,-1.77,-2.23,-1.53,-1.98,-1.29,-2.09,-1.06,-1.84,-0.83,-2.17,-0.59,-1.98,-0.36,-2.22,-0.13,-1.94,0.12,-2.08,0.36,-1.92,-1.88,-2.05,-1.17,-2.32,-0.72,-2.44];
const cloudC3=[-1.35,0.86,-1.01,0.9,-0.68,0.87,-0.34,0.89,0.0,0.85,0.33,0.89,0.67,0.86,1.01,0.9,1.35,0.87,
-1.52,0.74,-1.18,0.71,-0.85,0.75,-0.51,0.72,-0.17,0.74,0.17,0.71,0.51,0.75,0.85,0.72,1.18,0.74,
-1.71,0.57,-1.37,0.6,-1.04,0.56,-0.7,0.59,-0.36,0.57,-0.02,0.6,0.32,0.56,0.66,0.59,0.99,0.57,1.33,0.6,
-1.85,0.44,-1.51,0.41,-1.18,0.45,-0.84,0.42,-0.5,0.44,-0.16,0.41,0.18,0.45,0.52,0.42,0.85,0.44,1.19,0.41,
-1.97,0.27,-1.63,0.3,-1.3,0.26,-0.96,0.29,-0.62,0.27,-0.28,0.3,0.06,0.26,0.4,0.29,0.73,0.27,1.07,0.3,1.41,0.26,
-2.06,0.14,-1.72,0.11,-1.39,0.15,-1.05,0.12,-0.71,0.14,-0.37,0.11,-0.03,0.15,0.31,0.12,0.64,0.14,0.98,0.11,1.32,0.15,
-2.13,-0.01,-1.8,-0.04,-1.46,0.0,-1.12,-0.03,-0.78,-0.01,-0.44,-0.04,-0.1,0.0,0.24,-0.03,0.57,-0.01,0.91,-0.04,1.25,0.0,
-2.2,-0.16,-1.86,-0.19,-1.52,-0.15,-1.18,-0.18,-0.84,-0.16,-0.5,-0.19,-0.16,-0.15,0.18,-0.18,0.51,-0.16,0.85,-0.19,1.19,-0.15,
-2.25,-0.31,-1.91,-0.34,-1.57,-0.3,-1.23,-0.33,-0.89,-0.31,-0.55,-0.34,-0.21,-0.3,0.13,-0.33,0.46,-0.31,0.8,-0.34,1.13,-0.3,
-2.29,-0.46,-1.95,-0.49,-1.61,-0.45,-1.27,-0.48,-0.93,-0.46,-0.59,-0.49,-0.25,-0.45,0.09,-0.48,0.42,-0.46,0.76,-0.49,
-2.32,-0.61,-1.98,-0.64,-1.64,-0.6,-1.3,-0.63,-0.96,-0.61,-0.62,-0.64,-0.28,-0.6,0.06,-0.63,0.39,-0.61,0.73,-0.64,
-2.34,-0.76,-2.0,-0.79,-1.66,-0.75,-1.32,-0.78,-0.98,-0.76,-0.64,-0.79,-0.3,-0.75,0.04,-0.78,0.37,-0.76,0.71,-0.79,
-2.35,-0.91,-2.01,-0.94,-1.67,-0.9,-1.33,-0.93,-0.99,-0.91,-0.65,-0.94,-0.31,-0.9,0.03,-0.93,0.36,-0.91,
-2.33,-1.06,-1.99,-1.09,-1.65,-1.05,-1.31,-1.08,-0.97,-1.06,-0.63,-1.09,-0.29,-1.05,0.05,-1.08,0.38,-1.06,
-2.3,-1.21,-1.96,-1.24,-1.62,-1.2,-1.28,-1.23,-0.94,-1.21,-0.6,-1.24,-0.26,-1.2,0.08,-1.23,
-2.25,-1.36,-1.91,-1.39,-1.57,-1.35,-1.23,-1.38,-0.89,-1.36,-0.55,-1.39,-0.21,-1.35,
-2.18,-1.51,-1.84,-1.54,-1.5,-1.5,-1.16,-1.53,-0.82,-1.51,-0.48,-1.54,-0.14,-1.5,
-2.08,-1.66,-1.74,-1.69,-1.4,-1.65,-1.06,-1.68,-0.72,-1.66,-0.38,-1.69,
-1.95,-1.81,-1.61,-1.84,-1.27,-1.8,-0.93,-1.83,-0.59,-1.81];
const redC=[3.1,3.42,3.18,3.25,3.49,3.42,2.58,3.12,2.28,2.82,2.59,2.79,2.27,2.53,2.27,2.32,2.56,2.38,2.65,2.28,2.22,2.22,2.3,2.24];
const magC=[-0.5,2.92,-0.06,2.81,-0.19,2.45,0.1,2.54,0.01,2.28,0.27,2.42,0.23,2.22,2.31,0.24,2.27,-0.01,2.27,-0.13,2.67,0.11,2.7,-0.03,2.97,-0.01,3.38,-1.18,2.36,-1.59,2.75,-1.73,2.93,-1.7,2.23,-2.92];
const greenC=[-2.55,2.21,-2.45,0.66,-2.23,0.72,-2.24,0.48,-2.74,0.21,-2.76,-0.05,-2.5,-0.14,-2.54,-0.23,-2.39,-0.14,-2.24,-0.13,-2.18,-0.02,-2.18,-0.27,-0.24,-2.32,-0.12,-2.32,-0.07,-2.36,-0.02,-2.41,0.06,-2.39,-0.26,-2.54,-0.1,-2.95,1.03,-2.36,1.09,-2.26,1.45,-2.24,1.74,-3.07];
const blueC=[-3.39,-2.42,-2.9,-2.33,-2.72,-2.18,-2.63,-2.21,-2.69,-2.36,-2.61,-2.43,-2.5,-2.52,-2.61,-2.6,-2.54,-2.78,-2.44,-2.76,-2.79,-2.9,-2.71,-3.17,-2.17,-2.52,-2.17,-2.65];
const labelsC=[[-1.44,3.78,'ds\u2019 ISE','M'],[3.25,3.76,'ds\u2019 ISE','C'],[-4.18,0.64,'ds\u2019 ISS','L'],[-4.14,-3.58,'ds\u2019 ISS','C'],[3.38,-1.14,'ds\u2019 ISE','L'],[0.48,-3.56,'ds\u2019 ISS','M']];
const ringsC=[-2.55,2.21,2.23,-2.92];
const leadersC=[[-2.92,2.61,-2.65,2.35],[2.33,-3.06,2.57,-3.28]];
const notesC=[[-5.51,2.66,'UGCAUG (\u22122.55, 2.21)'],[2.35,-3.65,'TCTATC (2.23, \u22122.92)']];

// ---------- helpers ----------
function pts(a){const o=[];for(let i=0;i+1<a.length;i+=2)o.push({x:a[i],y:a[i+1]});return o;}
function segDs(s,color,width,dash,order){return {data:[{x:s[0],y:s[1]},{x:s[2],y:s[3]}],showLine:true,borderColor:color,borderWidth:width,borderDash:dash,pointRadius:0,fill:false,order:order};}
function dotDs(a,color,r,order,style){return {data:pts(a),backgroundColor:color,borderWidth:0,pointRadius:r,pointStyle:style||'circle',order:order};}
const fmt=v=>v<0?'\u2212'+(-v):String(v);

function makeChart(id,cfg){
  const ds=[];
  ZERO_SEGS.forEach(s=>ds.push(segDs(s,'#2a2a2a',1,[],30)));
  DASH_SEGS.forEach(s=>ds.push(segDs(s,'rgba(255,35,35,0.92)',1.3,[9,4.5],29)));
  ds.push(dotDs(cfg.cloud,'#000',2.25,20,'rect'));
  ds.push(dotDs(cfg.red,'#f21d24',2.4,5));
  ds.push(dotDs(cfg.mag,'#b447a8',2.3,5));
  ds.push(dotDs(cfg.green,'#5cc43a',2.3,5));
  ds.push(dotDs(cfg.blue,'#2b4aa6',2.3,5));
  if(cfg.rings){
    ds.push({data:pts(cfg.rings),backgroundColor:'rgba(0,0,0,0)',borderColor:'#e8262b',borderWidth:1.2,pointRadius:6,order:1});
    cfg.leaders.forEach(s=>ds.push(segDs(s,'#e8262b',1,[],1)));
  }
  const deco={id:'deco'+id,afterDraw(chart){
    const c=chart.ctx,a=chart.chartArea,sx=chart.scales.x,sy=chart.scales.y;
    c.save();
    c.strokeStyle='#222';c.lineWidth=1.3;
    c.strokeRect(a.left,a.top,a.right-a.left,a.bottom-a.top);
    c.lineWidth=1;c.beginPath();
    X_TICKS.slice(1,-1).forEach(v=>{const p=Math.round(sx.getPixelForValue(v))+0.5;c.moveTo(p,a.bottom);c.lineTo(p,a.bottom-5);c.moveTo(p,a.top);c.lineTo(p,a.top+5);});
    Y_TICKS.slice(1,-1).forEach(v=>{const p=Math.round(sy.getPixelForValue(v))+0.5;c.moveTo(a.left,p);c.lineTo(a.left+5,p);c.moveTo(a.right,p);c.lineTo(a.right-5,p);});
    c.stroke();
    c.fillStyle='#333';c.textAlign='left';c.textBaseline='alphabetic';
    cfg.labels.forEach(l=>{
      const px=sx.getPixelForValue(l[0]),py=sy.getPixelForValue(l[1]);
      c.font='italic 18px "Liberation Serif"';c.fillText(l[2],px,py);
      const w=c.measureText(l[2]).width;
      c.font='italic 13px "Liberation Serif"';c.fillText(l[3],px+w+2.5,py+8.5);
    });
    if(cfg.notes){
      c.fillStyle='#222';c.font='14px "Liberation Serif"';
      cfg.notes.forEach(n=>c.fillText(n[2],sx.getPixelForValue(n[0]),sy.getPixelForValue(n[1])));
    }
    c.fillStyle='#111';c.font='18px "Liberation Serif"';
    c.fillText(cfg.letter,12.5,cfg.letterY);
    c.restore();
  }};
  return new Chart(document.getElementById(id),{
    type:'scatter',
    data:{datasets:ds},
    options:{
      responsive:false,animation:false,devicePixelRatio:1,events:[],
      layout:{padding:{top:cfg.padTop,right:4.3,left:0,bottom:0}},
      plugins:{legend:{display:false},tooltip:{enabled:false}},
      scales:{
        x:{type:'linear',min:-6,max:6,
          grid:{display:false,drawTicks:false},border:{display:false},
          ticks:{color:'#333',font:{family:'"Liberation Sans", Arial',size:12},padding:4.5,maxRotation:0,callback:v=>fmt(v)},
          afterBuildTicks:s=>{s.ticks=X_TICKS.map(v=>({value:v}));},
          title:{display:true,text:cfg.xTitle,color:'#222',font:{family:'"Liberation Sans", Arial',size:19},padding:{top:0,bottom:cfg.xH-27-11.4}},
          afterFit:s=>{s.height=cfg.xH;s.paddingLeft=0;s.paddingRight=0;}},
        y:{type:'linear',min:-6,max:6,
          grid:{display:false,drawTicks:false},border:{display:false},
          ticks:{color:'#333',font:{family:'"Liberation Sans", Arial',size:12},padding:3,callback:v=>fmt(v)},
          afterBuildTicks:s=>{s.ticks=Y_TICKS.map(v=>({value:v}));},
          title:{display:true,text:cfg.yTitle,color:'#222',font:{family:'"Liberation Sans", Arial',size:19},padding:{top:27.6,bottom:0}},
          afterFit:s=>{s.width=71;s.paddingTop=0;s.paddingBottom=0;}}
      }
    },
    plugins:[deco]
  });
}

makeChart('ca',{cloud:cloudA.concat(cloudA2,cloudA3),red:redA,mag:magA,green:greenA,blue:blueA,labels:labelsA,
  xTitle:'z\u2212score in liver exons',yTitle:'z\u2212score in muscle exons',padTop:13.3,xH:44.3,letter:'(a)',letterY:18.6});
makeChart('cb',{cloud:cloudB.concat(cloudB2,cloudB3),red:redB,mag:magB,green:greenB,blue:blueB,labels:labelsB,
  xTitle:'z\u2212score in liver upstream introns',yTitle:'z\u2212score in muscle upstream introns',padTop:31.7,xH:43.7,letter:'(b)',letterY:13.6});
makeChart('cc',{cloud:cloudC.concat(cloudC2,cloudC3),red:redC,mag:magC,green:greenC,blue:blueC,labels:labelsC,rings:ringsC,leaders:leadersC,notes:notesC,
  xTitle:'z\u2212score in liver downstream introns',yTitle:'z\u2212score in muscle downstream introns',padTop:37.7,xH:42,letter:'(c)',letterY:40});
</script>
</body></html>
